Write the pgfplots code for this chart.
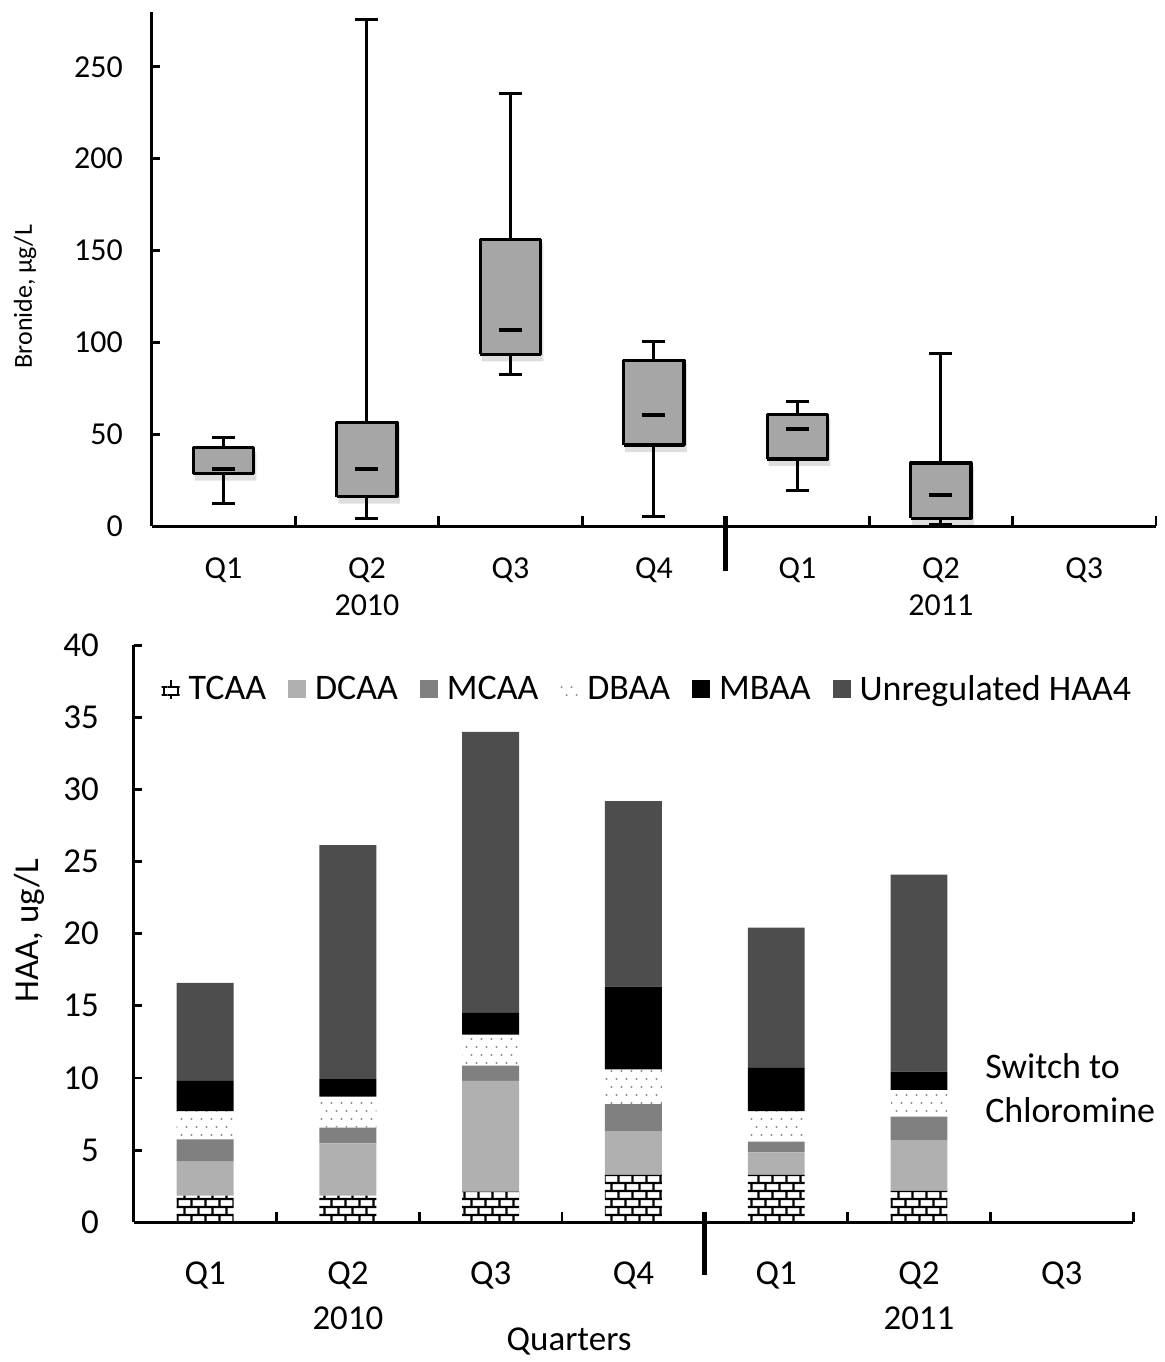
\documentclass[border=0pt]{standalone}
\usepackage{fontspec}
\setmainfont{Carlito}
\usepackage{pgfplots}
\pgfplotsset{compat=1.18}
\usetikzlibrary{patterns}

\definecolor{boxgray}{HTML}{A6A6A6}
\definecolor{dcaa}{HTML}{B0B0B0}
\definecolor{mcaa}{HTML}{808080}
\definecolor{unreg}{HTML}{4D4D4D}
\definecolor{dotgray}{HTML}{8C8C8C}

\pgfdeclarepatternformonly{mybricks}{\pgfpointorigin}{\pgfpoint{7pt}{8pt}}{\pgfpoint{7pt}{8pt}}{%
  \pgfsetlinewidth{1.1pt}%
  \pgfpathmoveto{\pgfpoint{0pt}{2pt}}\pgfpathlineto{\pgfpoint{7pt}{2pt}}%
  \pgfpathmoveto{\pgfpoint{0pt}{6pt}}\pgfpathlineto{\pgfpoint{7pt}{6pt}}%
  \pgfpathmoveto{\pgfpoint{1.75pt}{2pt}}\pgfpathlineto{\pgfpoint{1.75pt}{6pt}}%
  \pgfpathmoveto{\pgfpoint{5.25pt}{6pt}}\pgfpathlineto{\pgfpoint{5.25pt}{8pt}}%
  \pgfpathmoveto{\pgfpoint{5.25pt}{0pt}}\pgfpathlineto{\pgfpoint{5.25pt}{2pt}}%
  \pgfusepath{stroke}}

\pgfdeclarepatternformonly{mydots}{\pgfpointorigin}{\pgfpoint{5pt}{8pt}}{\pgfpoint{5pt}{8pt}}{%
  \pgfpathcircle{\pgfpoint{1.25pt}{2pt}}{0.55pt}%
  \pgfpathcircle{\pgfpoint{3.75pt}{6pt}}{0.55pt}%
  \pgfusepath{fill}}

\begin{document}
\begin{tikzpicture}
\path (0,0) rectangle (583pt,681pt);

% ---------- Bottom: HAA stacked bars ----------
\begin{axis}[
  scale only axis,
  at={(67pt,68.85pt)}, anchor=south west,
  width=500.5pt, height=289pt,
  xmin=-0.5, xmax=6.5, ymin=0, ymax=40,
  axis x line*=bottom, axis y line*=left,
  axis line style={line width=1.4pt},
  ybar stacked, bar width=28.5pt,
  xtick={0,1,2,3,4,5,6},
  xticklabels={Q1,{Q2\\2010},Q3,Q4,Q1,{Q2\\2011},Q3},
  major x tick style={draw=none},
  minor xtick={0.5,1.5,2.5,3.5,4.5,5.5,6.5},
  ytick={0,5,...,40},
  tick align=inside,
  major tick length=4pt, minor tick length=5pt,
  tick style={line width=1.4pt, black},
  /pgf/number format/assume math mode=true,
  xticklabel style={align=center, font=\fontsize{17.5}{22.5}\selectfont, yshift=-16.5pt},
  yticklabel style={font=\fontsize{17.5}{21}\selectfont, xshift=-14pt},
  ylabel={HAA, ug/L},
  ylabel style={at={(axis description cs:-0.104,0.505)}, anchor=center, font=\fontsize{17.5}{21}\selectfont},
  xlabel={Quarters},
  xlabel style={at={(axis description cs:0.4356,-0.207)}, anchor=center, font=\fontsize{17.5}{21}\selectfont},
  legend columns=6,
  legend style={at={(axis description cs:0.515,0.924)}, anchor=center, draw=none, fill=none,
    font=\fontsize{18}{21}\selectfont,
    /tikz/every odd column/.append style={column sep=2.5pt},
    /tikz/every even column/.append style={column sep=9pt}},
  legend image code/.code={\path[#1] (0pt,-4.5pt) rectangle (9pt,4.5pt);},
  clip=false,
]
\addplot[draw=none, pattern=mybricks, pattern color=black] coordinates {(0,1.85) (1,1.85) (2,2.13) (3,3.28) (4,3.28) (5,2.17)};
\addlegendentry{TCAA}
\addplot[draw=none, fill=dcaa] coordinates {(0,2.35) (1,3.62) (2,7.67) (3,3.0) (4,1.57) (5,3.49)};
\addlegendentry{DCAA}
\addplot[draw=none, fill=mcaa] coordinates {(0,1.55) (1,1.09) (2,1.06) (3,1.9) (4,0.74) (5,1.66)};
\addlegendentry{MCAA}
\addplot[draw=none, pattern=mydots, pattern color=dotgray] coordinates {(0,1.95) (1,2.14) (2,2.14) (3,2.42) (4,2.12) (5,1.85)};
\addlegendentry{DBAA}
\addplot[draw=none, fill=black] coordinates {(0,2.1) (1,1.23) (2,1.55) (3,5.73) (4,3.03) (5,1.27)};
\addlegendentry{MBAA}
\addplot[draw=none, fill=unreg] coordinates {(0,6.8) (1,16.22) (2,19.45) (3,12.87) (4,9.68) (5,13.66)};
\addlegendentry{Unregulated HAA4}
\draw[line width=2.6pt] (axis cs:3.5,0.7) -- (axis cs:3.5,-3.67);
\node[anchor=west, align=left, font=\fontsize{18}{22}\selectfont] at (axis description cs:0.845,0.232) {Switch to\\Chloromine};
\end{axis}

% ---------- Top: bromide box plots ----------
\begin{axis}[
  scale only axis,
  at={(76pt,417.5pt)}, anchor=south west,
  width=503pt, height=257.6pt,
  xmin=-0.5, xmax=6.5, ymin=0, ymax=280,
  axis x line*=bottom, axis y line*=left,
  axis line style={line width=1.4pt},
  xtick={0,1,2,3,4,5,6},
  xticklabels={Q1,{Q2\\2010},Q3,Q4,Q1,{Q2\\2011},Q3},
  major x tick style={draw=none},
  minor xtick={0.5,1.5,2.5,3.5,4.5,5.5,6.5},
  ytick={0,50,...,250},
  tick align=inside,
  major tick length=4pt, minor tick length=5pt,
  tick style={line width=1.4pt, black},
  /pgf/number format/assume math mode=true,
  xticklabel style={align=center, font=\fontsize{16}{18.5}\selectfont, yshift=-12.5pt},
  yticklabel style={font=\fontsize{16}{19}\selectfont, xshift=-11pt},
  ylabel={Bronide, µg/L},
  ylabel style={at={(axis description cs:-0.126,0.446)}, anchor=center, font=\fontsize{13}{15}\selectfont},
  unbounded coords=jump,
  clip=false,
]
% soft shadow under boxes
\addplot[draw=none, fill=black, fill opacity=0.13] coordinates {
(-0.2,24.8) (0.23,24.8) (0.23,40.6) (-0.2,40.6) (-0.2,24.8) (nan,nan)
(0.8,12.3) (1.23,12.3) (1.23,54.5) (0.8,54.5) (0.8,12.3) (nan,nan)
(1.8,89.7) (2.23,89.7) (2.23,154) (1.8,154) (1.8,89.7) (nan,nan)
(2.8,40.3) (3.23,40.3) (3.23,88.3) (2.8,88.3) (2.8,40.3) (nan,nan)
(3.8,32.7) (4.23,32.7) (4.23,58.6) (3.8,58.6) (3.8,32.7) (nan,nan)
(4.8,0.5) (5.23,0.5) (5.23,32.4) (4.8,32.4) (4.8,0.5)};
% whiskers with caps
\addplot[black, line width=1.5pt] coordinates {
(0,42.6) (0,48.4) (nan,nan) (-0.08,48.4) (0.08,48.4) (nan,nan) (0,28.6) (0,12.5) (nan,nan) (-0.08,12.5) (0.08,12.5) (nan,nan)
(1,56.5) (1,275.8) (nan,nan) (0.92,275.8) (1.08,275.8) (nan,nan) (1,16.1) (1,3.9) (nan,nan) (0.92,3.9) (1.08,3.9) (nan,nan)
(2,156) (2,235.6) (nan,nan) (1.92,235.6) (2.08,235.6) (nan,nan) (2,93.5) (2,82.3) (nan,nan) (1.92,82.3) (2.08,82.3) (nan,nan)
(3,90.3) (3,100.6) (nan,nan) (2.92,100.6) (3.08,100.6) (nan,nan) (3,44.1) (3,5.4) (nan,nan) (2.92,5.4) (3.08,5.4) (nan,nan)
(4,60.6) (4,67.7) (nan,nan) (3.92,67.7) (4.08,67.7) (nan,nan) (4,36.5) (4,19.3) (nan,nan) (3.92,19.3) (4.08,19.3) (nan,nan)
(5,34.4) (5,93.9) (nan,nan) (4.92,93.9) (5.08,93.9) (nan,nan) (5,4.3) (5,0.8) (nan,nan) (4.92,0.8) (5.08,0.8)};
% boxes (lower quartile to upper quartile)
\addplot[draw=black, fill=boxgray, line width=1.6pt, line join=round] coordinates {
(-0.21,28.6) (0.21,28.6) (0.21,42.6) (-0.21,42.6) (-0.21,28.6) (nan,nan)
(0.79,16.1) (1.21,16.1) (1.21,56.5) (0.79,56.5) (0.79,16.1) (nan,nan)
(1.79,93.5) (2.21,93.5) (2.21,156) (1.79,156) (1.79,93.5) (nan,nan)
(2.79,44.1) (3.21,44.1) (3.21,90.3) (2.79,90.3) (2.79,44.1) (nan,nan)
(3.79,36.5) (4.21,36.5) (4.21,60.6) (3.79,60.6) (3.79,36.5) (nan,nan)
(4.79,4.3) (5.21,4.3) (5.21,34.4) (4.79,34.4) (4.79,4.3)};
% medians
\addplot[black, line width=2pt] coordinates {
(-0.08,31) (0.08,31) (nan,nan)
(0.92,31.2) (1.08,31.2) (nan,nan)
(1.92,107) (2.08,107) (nan,nan)
(2.92,60.6) (3.08,60.6) (nan,nan)
(3.92,53.1) (4.08,53.1) (nan,nan)
(4.92,17.2) (5.08,17.2)};
\draw[line width=2.6pt] (axis cs:3.5,5.4) -- (axis cs:3.5,-24.4);
\end{axis}
\end{tikzpicture}
\end{document}
